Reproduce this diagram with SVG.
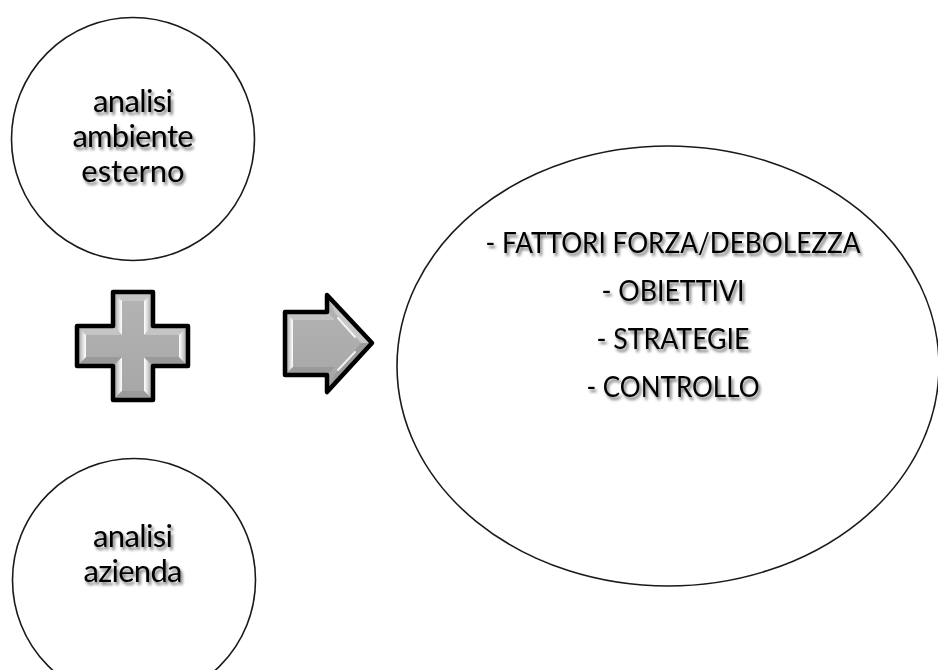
<svg xmlns="http://www.w3.org/2000/svg" width="938" height="670" viewBox="0 0 938 670">
  <defs>
    <filter id="txtShadow" x="-10%" y="-30%" width="120%" height="160%">
      <feGaussianBlur in="SourceAlpha" stdDeviation="1.6"/>
      <feOffset dx="2" dy="2.5" result="b"/>
      <feComponentTransfer><feFuncA type="linear" slope="0.55"/></feComponentTransfer>
      <feMerge><feMergeNode/><feMergeNode in="SourceGraphic"/></feMerge>
    </filter>
    <linearGradient id="facetL" x1="0" y1="0" x2="1" y2="0">
      <stop offset="0" stop-color="#8e8e8e"/>
      <stop offset="0.75" stop-color="#e8e8e8"/>
      <stop offset="1" stop-color="#ffffff"/>
    </linearGradient>
    <linearGradient id="facetR" x1="1" y1="0" x2="0" y2="0">
      <stop offset="0" stop-color="#8e8e8e"/>
      <stop offset="0.75" stop-color="#e8e8e8"/>
      <stop offset="1" stop-color="#ffffff"/>
    </linearGradient>
    <linearGradient id="faceFill" x1="0" y1="0" x2="0" y2="1">
      <stop offset="0" stop-color="#b4b4b4"/>
      <stop offset="1" stop-color="#a6a6a6"/>
    </linearGradient>
  </defs>
  <style>
    .node { fill: #ffffff; stroke: #1a1a1a; stroke-width: 1.6; }
    .lbl { font-family: Lato, "Open Sans", "Liberation Sans", sans-serif; fill: #000000; text-anchor: middle; filter: url(#txtShadow); }
    .small { font-size: 31px; }
    .big { font-size: 28px; }
    .outline { fill: none; stroke: #000000; stroke-width: 4.5; stroke-linejoin: round; }
    .face { fill: url(#faceFill); }
    .top { fill: #c4c4c4; }
    .bot { fill: #9a9a9a; }
  </style>

  <!-- external environment analysis -->
  <g id="node-ambiente">
    <circle class="node" cx="133" cy="139" r="121.5"/>
    <text class="lbl small" x="133" y="112" textLength="80" lengthAdjust="spacing">analisi</text>
    <text class="lbl small" x="133" y="147" textLength="121" lengthAdjust="spacing">ambiente</text>
    <text class="lbl small" x="133" y="182">esterno</text>
  </g>

  <!-- company analysis -->
  <g id="node-azienda">
    <circle class="node" cx="134" cy="580" r="121.5"/>
    <text class="lbl small" x="133" y="547" textLength="80" lengthAdjust="spacing">analisi</text>
    <text class="lbl small" x="133" y="582" textLength="99" lengthAdjust="spacing">azienda</text>
  </g>

  <!-- result ellipse -->
  <g id="node-risultato">
    <ellipse class="node" cx="668" cy="366" rx="271" ry="220"/>
    <text class="lbl big" x="673" y="253" textLength="375" lengthAdjust="spacingAndGlyphs">- FATTORI FORZA/DEBOLEZZA</text>
    <text class="lbl big" x="673" y="301" textLength="143" lengthAdjust="spacingAndGlyphs">- OBIETTIVI</text>
    <text class="lbl big" x="673" y="349" textLength="153" lengthAdjust="spacingAndGlyphs">- STRATEGIE</text>
    <text class="lbl big" x="673" y="397" textLength="173" lengthAdjust="spacingAndGlyphs">- CONTROLLO</text>
  </g>

  <g id="connectors">
    <!-- bevelled plus sign -->
    <g id="plus">
      <path class="face" d="M113,292 H153 V326 H188 V366 H153 V400 H113 V366 H77 V326 H113 Z"/>
      <!-- vertical arm facets -->
      <polygon class="top" points="113,292 153,292 144,301 122,301"/>
      <polygon fill="url(#facetL)" points="113,292 122,301 122,335 113,326"/>
      <polygon fill="url(#facetR)" points="153,292 144,301 144,335 153,326"/>
      <polygon fill="url(#facetL)" points="113,366 122,357 122,391 113,400"/>
      <polygon fill="url(#facetR)" points="153,366 144,357 144,391 153,400"/>
      <polygon class="bot" points="113,400 153,400 144,391 122,391"/>
      <!-- horizontal arm facets -->
      <polygon class="top" points="77,326 113,326 122,335 86,335"/>
      <polygon class="top" points="153,326 188,326 179,335 144,335"/>
      <polygon class="bot" points="77,366 86,357 122,357 113,366"/>
      <polygon class="bot" points="144,357 179,357 188,366 153,366"/>
      <polygon fill="url(#facetL)" points="77,326 86,335 86,357 77,366"/>
      <polygon fill="url(#facetR)" points="188,326 179,335 179,357 188,366"/>
      <path class="outline" d="M113,292 H153 V326 H188 V366 H153 V400 H113 V366 H77 V326 H113 Z"/>
    </g>

    <!-- bevelled block arrow -->
    <g id="arrow">
      <path class="face" d="M285,312 H327 V295 L372,343 L327,392 V375 H285 Z"/>
      <polygon class="top" points="285,312 327,312 335,320 293,320"/>
      <polygon fill="url(#facetL)" points="285,312 293,320 293,367 285,375"/>
      <polygon class="bot" points="285,375 293,367 335,367 327,375"/>
      <polygon fill="#c8c8c8" points="327,295 372,343 361,343 335,313"/>
      <polygon fill="#9c9c9c" points="372,343 327,392 335,374 361,343"/>
      <path d="M338,318 L355,337" stroke="#ffffff" stroke-width="2" stroke-linecap="round" opacity="0.85"/>
      <path d="M355,352 L338,370" stroke="#ffffff" stroke-width="2" stroke-linecap="round" opacity="0.85"/>
      <path class="outline" d="M285,312 H327 V295 L372,343 L327,392 V375 H285 Z"/>
    </g>
  </g>
</svg>
